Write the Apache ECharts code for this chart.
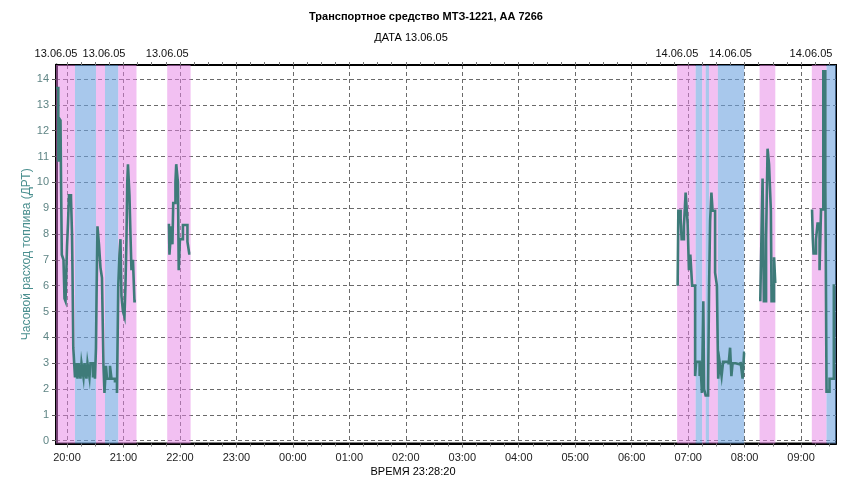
<!DOCTYPE html>
<html>
<head>
<meta charset="utf-8">
<script src="https://cdn.jsdelivr.net/npm/echarts@6/dist/echarts.min.js"></script>
<style>
  html, body { margin: 0; padding: 0; background: #fff; }
  #chart { width: 845px; height: 480px; }
</style>
</head>
<body>
<div id="chart"></div>
<script>
// Hourly fuel consumption (ДРТ), 13.06.05 evening – 14.06.05 morning.
// Readings are [clock time, litres per hour]; each run of readings is one working stretch.
const run1Times = ['19:48:19','19:50:46','19:51:17','19:53:06','19:53:38','19:54:29','19:56:17','19:57:21','19:58:25','20:00:00',
  '20:01:04','20:02:07','20:04:15','20:05:19','20:05:50','20:06:41','20:08:30','20:09:33','20:11:09','20:12:13',
  '20:14:20','20:15:24','20:17:31','20:18:35','20:20:42','20:21:46','20:23:53','20:24:57','20:27:37','20:28:40',
  '20:29:44','20:30:48','20:31:32','20:32:23','20:33:59','20:35:34','20:37:10','20:38:46','20:39:49','20:41:25',
  '20:42:29','20:45:40','20:47:15','20:50:58','20:53:06','20:54:29','20:55:45','20:56:49','20:57:52','20:59:28',
  '21:01:04','21:02:07','21:03:11','21:04:02','21:04:47','21:06:22','21:07:26','21:08:29','21:10:05','21:11:41','21:13:16'];
const run1Values = [13.65, 10.8, 12.5, 12.4, 10.2, 7.2, 7.0, 5.5, 5.4, 7.5,
  8.4, 9.5, 9.4, 8.0, 6.6, 3.6, 2.45, 3.0, 2.4, 3.0,
  2.4, 3.0, 2.45, 3.0, 2.4, 3.0, 2.45, 3.0, 2.45, 3.0,
  2.4, 3.6, 6.0, 8.3, 7.6, 6.7, 6.3, 2.9, 1.85, 2.9,
  2.4, 2.9, 2.4, 2.3, 1.85, 6.0, 7.2, 7.8, 5.6, 5.0,
  4.8, 6.0, 7.8, 10.0, 10.7, 9.5, 8.0, 6.6, 7.0, 5.4, 5.4];

const run2Times = ['21:48:18','21:48:51','21:50:58','21:52:02','21:52:53','21:55:13','21:56:04','21:57:52','21:58:43','22:00:00',
  '22:03:11','22:07:58','22:09:52','22:11:09'];
const run2Values = [8.4, 7.2, 8.3, 7.6, 9.2, 10.0, 10.7, 10.0, 6.6, 7.8, 8.35, 7.7, 7.25, 7.25];

const run3Times = ['06:48:50','06:49:35','06:52:01','06:53:05','06:55:31','06:57:20','06:59:27','07:00:50','07:02:19','07:04:14',
  '07:07:25','07:08:29','07:12:11','07:13:02','07:14:38','07:16:07','07:16:58','07:18:34','07:21:13','07:22:16',
  '07:23:20','07:24:43','07:25:59','07:28:38','07:30:33','07:31:56','07:33:25','07:35:32','07:37:08','07:42:59',
  '07:44:34','07:45:57','07:47:14','07:50:25','07:55:43','07:57:50','07:59:26','08:00:30'];
const run3Values = [6.0, 8.9, 8.6, 7.8, 8.3, 9.6, 8.4, 6.6, 7.2, 6.0,
  2.5, 3.05, 2.5, 3.05, 1.85, 5.4, 2.0, 1.75, 2.1, 6.0,
  8.5, 9.6, 8.9, 6.5, 6.0, 2.4, 3.05, 2.5, 3.05, 2.95,
  3.6, 2.5, 3.0, 2.95, 3.05, 2.4, 3.4, 3.4];

const run4Times = ['08:16:38','08:17:29','08:19:05','08:20:28','08:22:48','08:24:23','08:25:59','08:27:54','08:28:38','08:31:17','08:32:34','08:33:06'];
const run4Values = [5.4, 7.1, 10.15, 5.4, 7.8, 11.3, 10.7, 8.9, 5.4, 7.1, 6.1, 6.1];

const run5Times = ['09:11:38','09:12:29','09:13:14','09:15:53','09:17:29','09:19:37','09:21:12','09:23:38','09:25:46','09:27:03','09:30:14','09:34:48','09:36:04'];
const run5Values = [8.95, 7.8, 7.25, 7.8, 8.4, 6.6, 8.95, 14.3, 10.1, 1.9, 2.4, 6.0, 6.0];

// Operating-mode intervals: [start, end, mode]
const modeStarts = ['19:48:19','20:08:30','20:30:48','20:40:22','20:54:29','21:46:28','06:48:18','07:08:00','07:14:54','07:18:37','07:22:08','07:31:36','08:15:54','09:11:24','09:27:00'];
const modeEnds   = ['20:08:30','20:30:48','20:40:22','20:54:29','21:13:50','22:11:20','07:08:00','07:14:54','07:18:37','07:22:08','07:31:36','07:59:30','08:32:36','09:27:00','09:37:06'];
const modeKinds  = ['move','idle','move','idle','move','move','move','idle','move','idle','move','idle','move','move','idle'];

// Axis labels
const hourLabels = ['20:00','21:00','22:00','23:00','00:00','01:00','02:00','03:00','04:00','05:00','06:00','07:00','08:00','09:00'];
const dateLabels = ['13.06.05','13.06.05','13.06.05','14.06.05','14.06.05','14.06.05'];
const dateLabelTimes = ['19:48:20','20:39:20','21:46:30','06:48:00','07:45:00','09:10:30'];
const fuelTicks = [0,1,2,3,4,5,6,7,8,9,10,11,12,13,14];

const viewStart = '19:48:19';
const viewEnd = '09:37:06';

// clock time -> minutes from 20:00 on the first evening
function toMin(t) {
  const p = t.split(':').map(Number);
  let v = p[0] * 60 + p[1] + (p[2] || 0) / 60 - 20 * 60;
  if (p[0] < 12) v += 24 * 60;
  return v;
}
// each reading holds until the next one: horizontal run, then a vertical jump
function stepped(times, values) {
  const out = [];
  times.forEach((t, i) => {
    const x = toMin(t);
    if (i > 0) out.push([x, values[i - 1]]);
    out.push([x, values[i]]);
  });
  return out;
}

const hourVals = hourLabels.map(toMin);
const quarterVals = [];
for (let q = 0; q <= toMin(viewEnd); q += 15) quarterVals.push(q);
const dateVals = dateLabelTimes.map(toMin);

const modeColors = { move: 'rgba(230,130,230,0.5)', idle: 'rgba(110,163,223,0.6)' };
const bands = modeStarts.map((s, i) => [
  { xAxis: toMin(s), itemStyle: { color: modeColors[modeKinds[i]] } },
  { xAxis: toMin(modeEnds[i]) }
]);

const FONT = 'Liberation Sans, Arial, sans-serif';
const lineColor = '#3e7b79';
const runs = [stepped(run1Times, run1Values), stepped(run2Times, run2Values), stepped(run3Times, run3Values),
              stepped(run4Times, run4Values), stepped(run5Times, run5Values)];

const xMin = toMin(viewStart), xMax = toMin(viewEnd);

const chart = echarts.init(document.getElementById('chart'), null, { renderer: 'canvas' });
chart.setOption({
  animation: false,
  backgroundColor: '#ffffff',
  title: [
    { text: 'Транспортное средство МТЗ-1221, АА 7266', left: 421, top: 6, textAlign: 'center',
      textStyle: { fontFamily: FONT, fontSize: 11, fontWeight: 'bold', color: '#000' } },
    { text: 'ДАТА 13.06.05', left: 406, top: 27, textAlign: 'center',
      textStyle: { fontFamily: FONT, fontSize: 11, fontWeight: 'normal', color: '#000' } },
    { text: 'ВРЕМЯ 23:28:20', left: 408, top: 461, textAlign: 'center',
      textStyle: { fontFamily: FONT, fontSize: 11, fontWeight: 'normal', color: '#000' } }
  ],
  grid: { left: 56, right: 9, top: 65, bottom: 36.5, show: true, borderColor: '#000', borderWidth: 2, backgroundColor: 'transparent' },
  xAxis: [
    {
      type: 'value', position: 'bottom', min: xMin, max: xMax,
      axisLine: { show: true, onZero: false, lineStyle: { color: '#000', width: 2 } },
      axisTick: { show: true, customValues: hourVals, length: 4, lineStyle: { color: '#555' } },
      axisLabel: { customValues: hourVals, margin: 9, fontFamily: FONT, fontSize: 11, color: '#222',
        formatter: v => hourLabels[hourVals.indexOf(v)] || '' },
      splitLine: { show: true, lineStyle: { color: '#6a6a6a', type: [4, 3], width: 1 } }
    },
    {
      type: 'value', position: 'bottom', min: xMin, max: xMax,
      axisLine: { show: false, onZero: false },
      axisTick: { show: true, customValues: quarterVals, length: 3, lineStyle: { color: '#777' } },
      axisLabel: { show: false },
      splitLine: { show: false }
    },
    {
      type: 'value', position: 'top', min: xMin, max: xMax,
      axisLine: { show: true, onZero: false, lineStyle: { color: '#000', width: 2 } },
      axisTick: { show: true, inside: false, customValues: quarterVals, length: 3, lineStyle: { color: '#777' } },
      axisLabel: { customValues: dateVals, margin: 6, fontFamily: FONT, fontSize: 11, color: '#111',
        formatter: v => dateLabels[dateVals.indexOf(v)] || '' },
      splitLine: { show: false }
    }
  ],
  yAxis: {
    type: 'value', min: -0.108, max: 14.54,
    name: 'Часовой расход топлива (ДРТ)', nameLocation: 'middle', nameGap: 23, nameMoveOverlap: false,
    nameTextStyle: { fontFamily: FONT, fontSize: 12, color: '#4a8f8f' },
    axisLine: { show: true, onZero: false, lineStyle: { color: '#000', width: 3 } },
    axisTick: { show: true, customValues: fuelTicks, length: 4, lineStyle: { color: '#555' } },
    axisLabel: { customValues: fuelTicks, margin: 7, fontFamily: FONT, fontSize: 11, color: '#5f8585' },
    splitLine: { show: true, lineStyle: { color: '#6a6a6a', type: [4, 3], width: 1 } }
  },
  series: [
    {
      type: 'line', name: 'modes', data: [], silent: true, z: 1,
      markArea: { silent: true, data: bands }
    }
  ].concat(runs.map((d, i) => ({
    type: 'line', name: 'run' + (i + 1), data: d, showSymbol: false, symbol: 'none',
    z: 5, lineStyle: { color: lineColor, width: 2.6, join: 'miter' }, itemStyle: { color: lineColor }
  })))
});
</script>
</body>
</html>
